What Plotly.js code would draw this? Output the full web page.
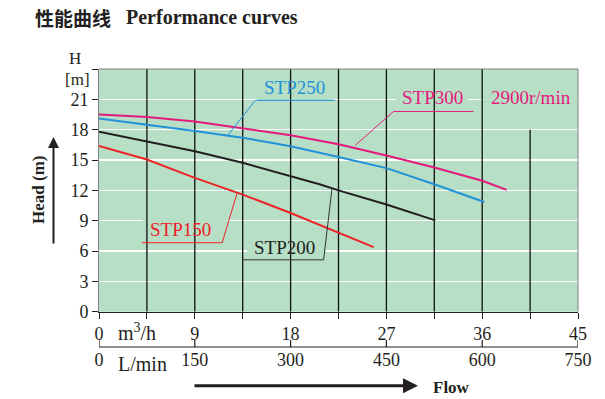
<!DOCTYPE html>
<html>
<head>
<meta charset="utf-8">
<script src="https://cdn.plot.ly/plotly-3.0.1.min.js"></script>
<style>html,body{margin:0;padding:0;background:#fff;}#chart{width:605px;height:399px;}</style>
</head>
<body>
<div id="chart"></div>
<script>
// ---- data ----
const m3hTicks = [0, 4.5, 9, 13.5, 18, 22.5, 27, 31.5, 36, 40.5, 45];
const m3hLabels = ['0', '', '9', '', '18', '', '27', '', '36', '', '45'];
const lminTicks = [0, 150, 300, 450, 600, 750];
const lminLabels = ['0', '150', '300', '450', '600', '750'];
const headTicks = [0, 3, 6, 9, 12, 15, 18, 21, 24];
const headLabels = ['0', '3', '6', '9', '12', '15', '18', '21', ''];

const stp300Q = [0, 4.5, 9, 13.5, 18, 22.5, 27, 31.5, 36, 38.3];
const stp300H = [19.5, 19.25, 18.8, 18.15, 17.45, 16.55, 15.45, 14.25, 12.95, 12.05];
const stp250Q = [0, 4.5, 9, 13.5, 18, 22.5, 27, 31.5, 36.2];
const stp250H = [19.1, 18.5, 17.86, 17.2, 16.37, 15.3, 14.2, 12.6, 10.85];
const stp200Q = [0, 4.5, 9, 13.5, 18, 20.8, 22.5, 27, 31.6];
const stp200H = [17.8, 16.8, 15.87, 14.72, 13.4, 12.57, 12.0, 10.6, 9.03];
const stp150Q = [0, 4.5, 9, 13.5, 18, 22.5, 25.8];
const stp150H = [16.4, 15.05, 13.23, 11.58, 9.76, 7.84, 6.39];

// vertical grid line tops (m) for the inner m3/h ticks
const vGridQ = [4.5, 9, 13.5, 18, 22.5, 27, 31.5, 36, 40.5];
const vGridTop = [24, 24, 24, 24, 24, 24, 24, 24, 18];

// ---- styles ----
const GREEN = '#b6dfc6';
const INK = '#231f20';
const C300 = '#e4197c', C250 = '#2192d8', C200 = '#231f20', C150 = '#ee2229';
const SERIF = '"Liberation Serif", "Times New Roman", serif';

const vx = [], vy = [];
vGridQ.forEach((q, i) => { vx.push(q, q, null); vy.push(0, vGridTop[i], null); });

function curve(q, h, c) {
  return {x: q, y: h, type: 'scatter', mode: 'lines', line: {color: c, width: 2}, hoverinfo: 'skip', showlegend: false};
}

const data = [
  {x: vx, y: vy, type: 'scatter', mode: 'lines', line: {color: '#111', width: 1.3}, hoverinfo: 'skip', showlegend: false},
  curve(stp300Q, stp300H, C300),
  curve(stp250Q, stp250H, C250),
  curve(stp200Q, stp200H, C200),
  curve(stp150Q, stp150H, C150),
  {x: [lminTicks[0], lminTicks[lminTicks.length - 1]], y: [0.5, 0.5], xaxis: 'x2', yaxis: 'y2', type: 'scatter', mode: 'lines',
    line: {width: 0, color: 'rgba(0,0,0,0)'}, hoverinfo: 'skip', showlegend: false}
];

// pixel -> paper helpers (plot area: x 99..578, y 69..347)
const px = p => (p - 99) / 479;
const py = p => (347 - p) / 278;

function bgRect(x0, x1, y0, y1) {
  return {type: 'rect', xref: 'x', yref: 'y', x0: x0, x1: x1, y0: y0, y1: y1, fillcolor: GREEN, line: {width: 0}, layer: 'between'};
}
function leader(path, c) {
  return {type: 'path', xref: 'x', yref: 'y', path: path, line: {color: c, width: 1}, layer: 'above'};
}

const shapes = [
  {type: 'rect', xref: 'x domain', yref: 'y domain', x0: 0, x1: 1, y0: 0, y1: 1, fillcolor: GREEN, line: {width: 0}, layer: 'below'},
  bgRect(14.9, 21.9, 20.5, 23.9),
  bgRect(27.85, 34.7, 20.5, 22.5),
  bgRect(36.1, 44.9, 20.5, 23.9),
  bgRect(4.1, 12.0, 7.2, 9.6),
  bgRect(13.9, 21.3, 5.2, 6.8),
  leader('M 22.2 20.9 L 14.68 20.9 L 12.1 17.45', C250),
  leader('M 35.18 19.8 L 27.66 19.8 L 24.08 16.45', C300),
  leader('M 4.05 6.82 L 11.57 6.82 L 12.98 11.75', C150),
  leader('M 21.89 12.17 L 21.1 5.13 L 13.55 5.13', '#333'),
  {type: 'line', xref: 'x domain', yref: 'y domain', x0: 0, x1: 1, y0: 1, y1: 1, line: {color: '#808080', width: 1}, layer: 'above'},
  {type: 'line', xref: 'x domain', yref: 'y domain', x0: 1, x1: 1, y0: 0, y1: 1, line: {color: '#808080', width: 1}, layer: 'above'},
  // L/min axis line and its upward ticks
  {type: 'line', xref: 'x2', yref: 'paper', x0: lminTicks[0], x1: lminTicks[lminTicks.length - 1], y0: 0, y1: 0,
    line: {color: INK, width: 1.2}, layer: 'above'}
].concat(lminTicks.map(v => ({type: 'line', xref: 'x2', yref: 'paper', x0: v, x1: v, y0: 0, y1: 7 / 278,
    line: {color: INK, width: 1.2}, layer: 'above'})));

function txt(x, y, t, c, size) {
  return {xref: 'x', yref: 'y', x: x, y: y, text: t, showarrow: false, xanchor: 'center', yanchor: 'middle',
    font: {family: SERIF, size: size, color: c}};
}
function ptxt(x, y, t, size, extra) {
  return Object.assign({xref: 'paper', yref: 'paper', x: px(x), y: py(y), text: t, showarrow: false,
    xanchor: 'center', yanchor: 'middle', font: {family: SERIF, size: size, color: INK}}, extra || {});
}

const annotations = [
  txt(18.4, 22.2, 'STP250', C250, 19),
  txt(31.3, 21.15, 'STP300', C300, 19),
  txt(40.55, 21.15, '2900r/min', C300, 19),
  txt(7.62, 8.1, 'STP150', C150, 19),
  txt(17.4, 6.3, 'STP200', C200, 19),
  ptxt(33, 17, '<b>性能曲线</b>', 19, {xanchor: 'left', font: {family: '"Noto Sans CJK SC", sans-serif', size: 19, color: INK}}),
  ptxt(124, 17, '<b>Performance curves</b>', 20, {xanchor: 'left'}),
  ptxt(75, 58, 'H', 17),
  ptxt(77, 79, '[m]', 17),
  ptxt(38, 190, '<b>Head (m)</b>', 17, {textangle: -90}),
  ptxt(136.5, 332, 'm<sup>3</sup>/h', 20),
  ptxt(142, 364, 'L/min', 20),
  ptxt(451, 387, '<b>Flow</b>', 17),
  {xref: 'paper', yref: 'paper', x: px(53.5), y: py(137), ax: 0, ay: 108, text: '', showarrow: true,
    arrowhead: 2, arrowsize: 1.1, arrowwidth: 2, arrowcolor: INK},
  {xref: 'paper', yref: 'paper', x: px(418), y: py(385.7), ax: -225, ay: 0, text: '', showarrow: true,
    arrowhead: 2, arrowsize: 1, arrowwidth: 3, arrowcolor: INK}
];

const tickFont = {family: SERIF, size: 18, color: INK};

const layout = {
  width: 605, height: 399,
  margin: {l: 99, r: 27, t: 69, b: 52, pad: 0},
  paper_bgcolor: '#ffffff',
  plot_bgcolor: 'rgba(0,0,0,0)',
  showlegend: false,
  xaxis: {
    range: [0, 45], anchor: 'y', tickmode: 'array', tickvals: m3hTicks, ticktext: m3hLabels,
    ticks: 'outside', ticklen: 6, tickwidth: 1, tickcolor: INK, tickfont: tickFont,
    showgrid: false, zeroline: false, showline: true, linecolor: INK, linewidth: 1, fixedrange: true
  },
  xaxis2: {
    range: [0, 750], anchor: 'y2', domain: [0, 1],
    tickmode: 'array', tickvals: lminTicks, ticktext: lminLabels,
    ticks: 'inside', ticklen: 7, tickwidth: 1, tickcolor: 'rgba(0,0,0,0)', tickfont: tickFont,
    showgrid: false, zeroline: false, showline: false, fixedrange: true
  },
  yaxis: {
    range: [0, 24], domain: [0.127, 1], anchor: 'x', tickmode: 'array', tickvals: headTicks, ticktext: headLabels,
    ticks: 'outside', ticklen: 6, tickwidth: 1, tickcolor: INK, tickfont: tickFont,
    showgrid: true, gridcolor: '#ffffff', gridwidth: 1.5, zeroline: false,
    showline: true, linecolor: '#808080', linewidth: 1, fixedrange: true
  },
  yaxis2: {
    range: [0, 1], domain: [0, 0.04], anchor: 'x2', visible: true,
    showticklabels: false, ticks: '', showline: false, showgrid: false, zeroline: false, fixedrange: true
  },
  shapes: shapes,
  annotations: annotations
};

Plotly.newPlot('chart', data, layout, {staticPlot: true, displayModeBar: false});
</script>
</body>
</html>
